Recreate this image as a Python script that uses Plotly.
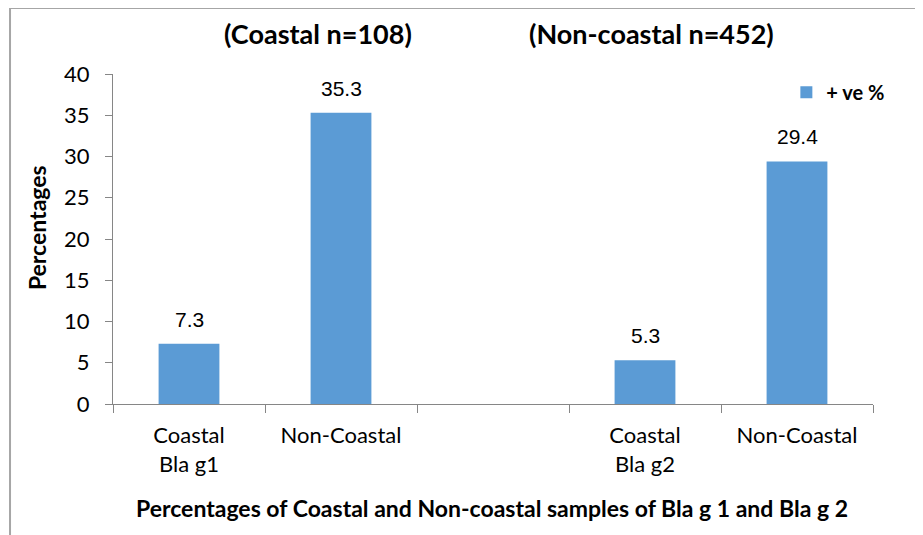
import plotly.graph_objects as go

categories = ["Coastal<br>Bla g1", "Non-Coastal", "", "Coastal<br>Bla g2", "Non-Coastal"]
values = [7.3, 35.3, None, 5.3, 29.4]
value_labels = ["7.3", "35.3", "", "5.3", "29.4"]
series_name = "+ ve %"
group_titles = ["(Coastal n=108)", "(Non-coastal n=452)"]
y_ticks = [0, 5, 10, 15, 20, 25, 30, 35, 40]

xs = list(range(len(categories)))
bar_color = "#5b9bd5"
axis_color = "#868686"
cal = "Lato, Carlito, Calibri, sans-serif"
arial = "Liberation Sans, Arial, sans-serif"

fig = go.Figure()
fig.add_trace(go.Bar(
    x=xs, y=values, name=series_name, marker_color=bar_color,
    marker_line_width=0, width=0.4, showlegend=True,
))

annotations = []
for x, v, t in zip(xs, values, value_labels):
    if v is None:
        continue
    annotations.append(dict(x=x, y=v, xref="x", yref="y", text=t, showarrow=False,
                            xanchor="center", yanchor="bottom", yshift=11,
                            font=dict(family=arial, size=21, color="#000")))

annotations += [
    dict(x=0.270, y=1.124, xref="paper", yref="paper", text="<b>" + group_titles[0] + "</b>",
         xanchor="center", yanchor="middle",
         showarrow=False, font=dict(family=cal, size=27, color="#000")),
    dict(x=0.708, y=1.124, xref="paper", yref="paper", text="<b>" + group_titles[1] + "</b>",
         xanchor="center", yanchor="middle",
         showarrow=False, font=dict(family=cal, size=27, color="#000")),
    dict(x=0.499, y=-0.315, xref="paper", yref="paper",
         text="<b>Percentages of Coastal and Non-coastal samples of Bla g 1 and Bla g 2</b>",
         xanchor="center", yanchor="middle",
         showarrow=False, font=dict(family=cal, size=23, color="#000")),
    dict(x=-0.1, y=0.533, xref="paper", yref="paper", text="<b>Percentages</b>", textangle=-90,
         xanchor="center", yanchor="middle",
         showarrow=False, font=dict(family=cal, size=23, color="#000")),
]

fig.update_layout(
    width=923, height=535,
    margin=dict(l=105, r=58, t=66, b=139),
    paper_bgcolor="white", plot_bgcolor="white",
    annotations=annotations,
    legend=dict(x=0.886, y=0.945, xanchor="left", yanchor="middle",
                font=dict(family=cal, size=20, color="#000", weight="bold"),
                bgcolor="rgba(0,0,0,0)"),
    shapes=[
        dict(type="line", xref="paper", yref="paper", x0=-0.1355, x1=1.2, y0=1.2, y1=1.2,
             line=dict(color="#a6a6a6", width=2)),
        dict(type="line", xref="paper", yref="paper", x0=-0.1355, x1=-0.1355, y0=1.2, y1=-0.5,
             line=dict(color="#a6a6a6", width=2)),
    ],
)
fig.update_xaxes(
    range=[-0.5, len(categories) - 0.5],
    tickvals=xs, ticktext=categories, ticks="",
    showline=True, linecolor=axis_color, linewidth=1,
    showgrid=False, zeroline=False, ticklabelstandoff=12,
    tickfont=dict(family=cal, size=22, color="#000"),
    minor=dict(tickvals=[i - 0.5 for i in range(len(categories) + 1)], ticks="outside",
               ticklen=8, tickcolor=axis_color, tickwidth=1, showgrid=False),
    fixedrange=True,
)
fig.update_yaxes(
    range=[0, 40], tickvals=y_ticks, ticks="outside", ticklen=7, tickcolor=axis_color,
    showline=True, linecolor=axis_color, linewidth=1,
    showgrid=False, zeroline=False, ticklabelstandoff=11,
    tickfont=dict(family=cal, size=22, color="#000"),
    fixedrange=True,
)
fig.write_html("out.html")
